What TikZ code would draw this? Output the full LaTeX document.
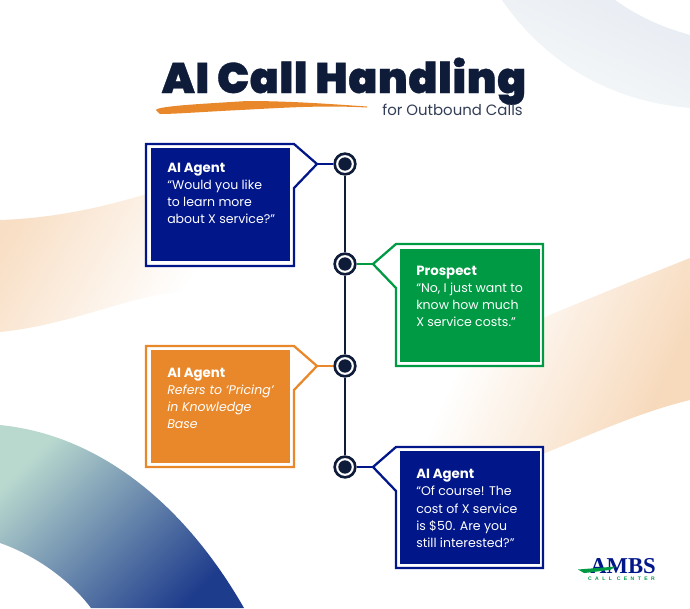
\documentclass[tikz,border=0pt]{standalone}
\usepackage{fontspec}
\setmainfont{Poppins}
\newfontfamily\titlefont[FakeBold=0.8,LetterSpace=1.5]{Poppins Black}
\newfontfamily\logofont{Liberation Serif}
\newfontfamily\tagfont[LetterSpace=68]{Liberation Sans}
\usetikzlibrary{positioning}
\definecolor{navy}{HTML}{0E1C3A}
\definecolor{agentblue}{HTML}{001689}
\definecolor{agentgreen}{HTML}{009A44}
\definecolor{agentorange}{HTML}{E9882B}
\definecolor{peach}{HTML}{F7D9BB}
\definecolor{mist}{HTML}{E8ECF3}
\definecolor{mistpale}{HTML}{F6FAF9}
\definecolor{seafoam}{HTML}{B9D9CF}
\definecolor{harbour}{HTML}{6C9AA6}
\definecolor{deepblue}{HTML}{1E3C8C}
\pgfdeclarehorizontalshading{peachfade}{100bp}{color(0bp)=(peach); color(25bp)=(peach!85!white); color(72bp)=(white); color(100bp)=(white)}
\pgfdeclarehorizontalshading{peachrise}{100bp}{color(0bp)=(white); color(32bp)=(white); color(72bp)=(peach); color(100bp)=(peach)}
\tikzset{
  dot/.style={circle, draw=navy, line width=2pt, fill=white, minimum size=15.5pt, inner sep=0pt},
  core/.style={circle, fill=navy, minimum size=10pt, inner sep=0pt},
  bubble/.style={line width=1.7pt, fill=white, line join=miter},
  link/.style={line width=1.7pt},
  inner/.style={anchor=north west, inner sep=0pt, minimum width=104.5pt, minimum height=84.75pt},
  says/.style={anchor=north west, inner sep=0pt, align=left, text=white, font=\fontsize{9.4}{12.9}\selectfont},
}
\newcommand{\who}[1]{{\fontsize{10}{12.9}\selectfont\bfseries #1}}
\begin{document}
\begin{tikzpicture}[x=0.75pt, y=-0.75pt]
\useasboundingbox (0,0) rectangle (690,608);
% background
\fill[white] (0,0) rectangle (690,608);
\shade[shading=peachfade, shading angle=-30] (0,220) .. controls (60,218) and (110,205) .. (150,193) -- (215,180) -- (205,285) -- (177,292) .. controls (130,296) and (70,325) .. (0,332) -- cycle;
\shade[shading=peachrise, shading angle=-25] (690,258) .. controls (640,278) and (590,298) .. (545,317) -- (425,375) -- (430,470) -- (545,453) .. controls (590,435) and (640,412) .. (690,400) -- cycle;
\shade[left color=mist, right color=mistpale, shading angle=-25] (502,0) .. controls (540,55) and (600,100) .. (690,108) -- (690,35) .. controls (665,28) and (640,18) .. (615,0) -- cycle;
\shade[top color=seafoam, middle color=harbour, bottom color=deepblue, shading angle=45] (0,425) .. controls (100,435) and (185,505) .. (244,608) -- (91,608) .. controls (70,580) and (35,555) .. (0,543) -- cycle;
% title
\node[anchor=base, inner sep=0pt, text=navy, font=\titlefont\fontsize{32}{32}\selectfont] (title) at (344,93) {AI Call Handling};
\fill[agentorange] (156,110) .. controls (158,106) and (200,104) .. (247,101) .. controls (290,101) and (330,104) .. (367,106.5) -- (367,107.5) .. controls (320,105) and (280,108) .. (240,110) .. controls (200,112) and (175,114) .. (160,114) -- cycle;
\node[anchor=base east, inner sep=0pt, text=navy!85, font=\fontsize{11.2}{12}\selectfont] (subtitle) at (523,115) {for Outbound Calls};
% timeline
\foreach \n/\y in {A/164,B/264,C/366,D/467} {
  \node[dot] (dot\n) at (345,\y) {};
  \node[core] (core\n) at (345,\y) {};
}
\foreach \a/\b in {A/B,B/C,C/D} \draw[navy, line width=1.8pt] (dot\a) -- (dot\b);
% bubbles
\draw[bubble, draw=agentblue] (146,144) -- (294,144) -- (317,164) coordinate (tipA) -- (294,188) -- (294,266) -- (146,266) -- cycle;
\draw[link, agentblue] (tipA) -- (dotA);
\node[inner, fill=agentblue] (boxA) at (150.5,148) {};
\node[says] (textA) at (167,162.5) {\who{AI Agent}\\“Would you like\\to learn more\\about X service?”};
\draw[bubble, draw=agentgreen] (543,244) -- (396,244) -- (373,264) coordinate (tipB) -- (396,288) -- (396,366) -- (543,366) -- cycle;
\draw[link, agentgreen] (tipB) -- (dotB);
\node[inner, fill=agentgreen] (boxB) at (400,249) {};
\node[says] (textB) at (416,265.5) {\who{Prospect}\\“No, I just want to\\know how much\\X service costs.”};
\draw[bubble, draw=agentorange] (146,346) -- (294,346) -- (317,366) coordinate (tipC) -- (294,390) -- (294,467) -- (146,467) -- cycle;
\draw[link, agentorange] (tipC) -- (dotC);
\node[inner, fill=agentorange] (boxC) at (150.5,350) {};
\node[says] (textC) at (167,367.5) {\who{AI Agent}\\\textit{Refers to ‘Pricing’}\\\textit{in Knowledge}\\\textit{Base}};
\draw[bubble, draw=agentblue] (543,447) -- (396,447) -- (373,467) coordinate (tipD) -- (396,491) -- (396,568) -- (543,568) -- cycle;
\draw[link, agentblue] (tipD) -- (dotD);
\node[inner, fill=agentblue] (boxD) at (400,451) {};
\node[says] (textD) at (416,469) {\who{AI Agent}\\“Of course! The\\cost of X service\\is \$50. Are you\\still interested?”};
% logo
\node[anchor=base, inner sep=0pt, text=agentblue, font=\logofont\bfseries\fontsize{17}{17}\selectfont] (logo) at (623,573) {AMBS};
\fill[agentgreen] (578,569.5) -- (616,566.5) -- (610,570) .. controls (600,571) and (590,572.5) .. (584,573) -- cycle;
\node[anchor=base, inner sep=0pt, text=agentgreen, font=\tagfont\bfseries\fontsize{3.8}{4}\selectfont] (tagline) at (621.5,580.5) {CALL CENTER};
\end{tikzpicture}
\end{document}
